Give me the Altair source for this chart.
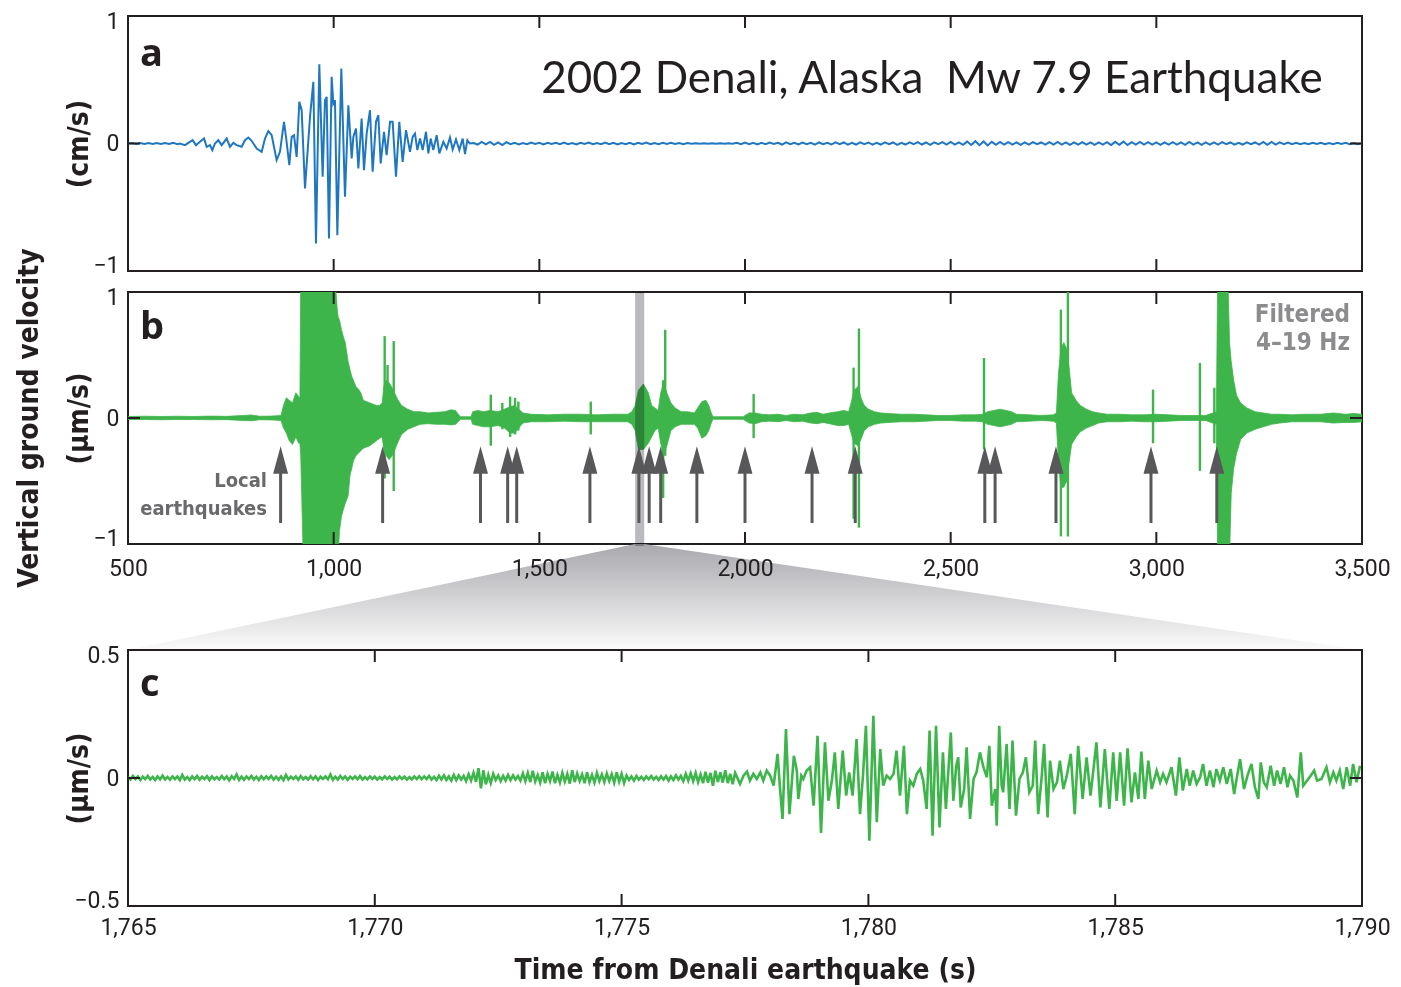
import altair as alt
import pandas as pd

# ------------------------------------------------------------------ data
# panel a: broadband vertical velocity (cm/s), peaks
A_BURST_T = [500, 510, 520, 530, 540, 550, 560, 570, 580, 590, 600, 610, 620, 626,
             638.6, 646.7, 657.2, 665.3, 675, 684.8, 691.2, 699.3, 705, 711.5,
             719.6, 727.7, 739.9, 748, 756, 764.2, 776.3, 784.4, 792.5, 800.6,
             812.8, 825, 833, 841.2, 849.3, 861.4, 869.5, 879.2, 884.1, 892.2,
             897.9, 903.6, 910, 916.5, 922.2, 930.3, 942.5, 950.6, 957, 965.1,
             973.2, 978.9, 983, 988.6, 995.1, 999.2, 1003.2, 1008.9, 1018.6, 1027.5,
             1035.7, 1043.8, 1047.8, 1054.3, 1060, 1068, 1073.7, 1080.2, 1088.3, 1094.8,
             1102.9, 1108.6, 1114.3, 1122.4, 1128.8, 1137, 1143.4, 1151.5, 1159.6, 1167.7,
             1175.9, 1185.6, 1192, 1197.7, 1203.4, 1209.9, 1216.4, 1224.5, 1230.2, 1235.8,
             1242.3, 1250.4, 1256.9, 1266.6, 1274.7, 1282.8, 1289.3, 1297.4, 1305.5, 1313.6,
             1319.3, 1325, 1331]
A_BURST_V = [0, 0.004, -0.003, 0.003, -0.004, 0.004, -0.003, 0.004, -0.004, 0.003, -0.004, 0.005, -0.005, 0,
             -0.013, 0.005, 0.026, -0.013, 0.013, 0.039, -0.026, -0.013, -0.052, 0.0,
             0.026, -0.013, 0.039, -0.026, 0.005, -0.013, -0.026, 0.026, 0.047, 0.021,
             -0.039, -0.065, 0.039, 0.097, 0.065, -0.13, -0.065, 0.17, 0.052, -0.17,
             0.052, 0.065, -0.105, 0.327, 0.261, -0.353, 0.209, 0.484, -0.784, 0.622,
             -0.261, 0.34, 0.366, -0.745, 0.523, 0.314, 0.34, -0.719, 0.588, -0.418,
             0.3, -0.118, 0.052, 0.118, -0.196, 0.196, -0.209, 0.078, 0.261, -0.222,
             0.17, 0.222, -0.157, 0.092, -0.092, 0.17, 0.17, -0.261, 0.17, -0.144,
             0.105, -0.065, 0.052, 0.078, -0.052, 0.039, -0.052, 0.092, -0.078, 0.039,
             -0.052, 0.065, -0.078, 0.013, -0.039, 0.047, -0.047, 0.031, -0.052, 0.039,
             -0.084, 0.026, 0.0]
A_NOISE_T0 = 1340
A_NOISE_DT = 10
A_NOISE_V = [
    0.004, -0.008, 0.012, -0.006, 0.013, -0.01, 0.008, -0.013, 0.01, -0.005,
    0.006, -0.008, 0.004, -0.006, 0.008, -0.004, 0.005, -0.008, 0.006, -0.003,
    0.005, -0.006, 0.008, -0.005, 0.004, -0.008, 0.006, -0.004, 0.008, -0.006,
    0.004, -0.005, 0.008, -0.006, 0.005, -0.008, 0.004, -0.005, 0.006, -0.008,
    0.005, -0.004, 0.008, -0.006, 0.004, -0.005, 0.006, -0.004, 0.005, -0.003,
    0.004, -0.005, 0.003, -0.002, 0.001, -0.001, 0.001, -0.001, 0.001, -0.001,
    0.001, -0.001, 0.001, -0.001, 0.005, -0.006, 0.008, -0.005, 0.006, -0.008,
    0.005, -0.006, 0.008, -0.004, 0.006, -0.008, 0.009, -0.006, 0.005, -0.008,
    0.008, -0.005, 0.006, -0.009, 0.008, -0.006, 0.005, -0.008, 0.009, -0.006,
    0.008, -0.009, 0.006, -0.008, 0.009, -0.005, 0.008, -0.009, 0.006, -0.008,
    0.009, -0.006, 0.008, -0.01, 0.006, -0.008, 0.009, -0.006, 0.01, -0.008,
    0.008, -0.01, 0.009, -0.006, 0.01, -0.008, 0.012, -0.009, 0.008, -0.01,
    0.015, -0.012, 0.018, -0.013, 0.016, -0.015, 0.013, -0.01, 0.012, -0.009,
    0.01, -0.008, 0.009, -0.01, 0.008, -0.009, 0.01, -0.006, 0.008, -0.009,
    0.01, -0.008, 0.012, -0.009, 0.008, -0.01, 0.009, -0.008, 0.01, -0.009,
    0.008, -0.01, 0.009, -0.008, 0.01, -0.012, 0.013, -0.01, 0.015, -0.012,
    0.01, -0.009, 0.012, -0.008, 0.01, -0.009, 0.008, -0.01, 0.009, -0.008,
    0.01, -0.009, 0.008, -0.01, 0.012, -0.008, 0.009, -0.01, 0.008, -0.009,
    0.009, -0.008, 0.01, -0.006, 0.008, -0.009, 0.006, -0.008, 0.009, -0.006,
    0.008, -0.009, 0.012, -0.01, 0.013, -0.008, 0.009, -0.006, 0.008, -0.005,
    0.006, -0.005, 0.004, -0.006, 0.005, -0.004, 0.006, -0.005, 0.004, -0.005,
    0.006, -0.004, 0.005, -0.006, 0.004, -0.005, 0.003]

# panel b: filtered 4-19 Hz trace (um/s) as upper / lower envelope
B_T = [500, 540, 580, 620, 660, 700, 740, 780, 800, 820,
       850, 872, 878, 885, 892, 900, 908, 915, 918, 920,
       926, 1004, 1006, 1009, 1011, 1014, 1019, 1024, 1028, 1035,
       1040, 1044, 1048, 1054, 1060, 1066, 1072, 1080, 1088, 1096,
       1104, 1112, 1118, 1122, 1128, 1135, 1142, 1148, 1155, 1165,
       1180, 1195, 1210, 1230, 1250, 1270, 1285, 1296, 1303, 1308,
       1334, 1338, 1350, 1365, 1380, 1400, 1415, 1430, 1440, 1450,
       1460, 1480, 1520, 1560, 1600, 1640, 1680, 1715, 1725, 1733,
       1741, 1753, 1765, 1773, 1781, 1789, 1795, 1802, 1810, 1820,
       1830, 1845, 1860, 1877, 1885, 1895, 1905, 1912, 1918, 1922,
       1996, 2000, 2010, 2025, 2040, 2060, 2080, 2100, 2120, 2140,
       2160, 2175, 2190, 2205, 2225, 2240, 2252, 2258, 2265, 2275,
       2283, 2290, 2300, 2315, 2330, 2350, 2380, 2410, 2440, 2470,
       2500, 2530, 2560, 2578, 2590, 2605, 2620, 2635, 2648, 2660,
       2690, 2720, 2750, 2757, 2762, 2768, 2775, 2782, 2788, 2794,
       2805, 2815, 2830, 2845, 2860, 2880, 2910, 2940, 2970, 3000,
       3030, 3060, 3090, 3120, 3146, 3149, 3174, 3178, 3182, 3188,
       3195, 3205, 3220, 3240, 3260, 3280, 3300, 3330, 3360, 3400,
       3430, 3460, 3480, 3500]
B_HI = [0.012, 0.014, 0.012, 0.014, 0.012, 0.015, 0.013, 0.02, 0.024, 0.014,
        0.015, 0.02, 0.1, 0.16, 0.14, 0.12, 0.2, 0.17, 0.16, 1.1,
        1.1, 1.1, 0.98, 0.85, 0.8, 0.78, 0.7, 0.64, 0.6, 0.45,
        0.38, 0.33, 0.3, 0.25, 0.23, 0.2, 0.14, 0.13, 0.12, 0.11,
        0.1, 0.1, 0.12, 0.25, 0.3, 0.28, 0.24, 0.2, 0.15, 0.1,
        0.07, 0.05, 0.05, 0.04, 0.045, 0.05, 0.065, 0.06, 0.03, 0.01,
        0.01, 0.05, 0.06, 0.05, 0.06, 0.05, 0.07, 0.09, 0.1, 0.07,
        0.04, 0.03, 0.025, 0.03, 0.03, 0.025, 0.03, 0.03, 0.05, 0.1,
        0.22, 0.27, 0.2, 0.1, 0.08, 0.06, 0.2, 0.28, 0.2, 0.12,
        0.08, 0.05, 0.05, 0.04, 0.08, 0.13, 0.14, 0.1, 0.04, 0.01,
        0.01, 0.02, 0.04, 0.04, 0.03, 0.025, 0.03, 0.02, 0.03, 0.025,
        0.04, 0.045, 0.03, 0.04, 0.05, 0.06, 0.05, 0.12, 0.22, 0.25,
        0.15, 0.1, 0.07, 0.05, 0.04, 0.035, 0.03, 0.03, 0.025, 0.02,
        0.02, 0.025, 0.025, 0.03, 0.05, 0.06, 0.07, 0.06, 0.05, 0.03,
        0.025, 0.02, 0.025, 0.04, 0.35, 0.55, 0.6, 0.55, 0.4, 0.2,
        0.14, 0.1, 0.07, 0.05, 0.04, 0.03, 0.03, 0.025, 0.025, 0.03,
        0.025, 0.02, 0.02, 0.02, 0.05, 1.1, 1.1, 0.6, 0.45, 0.3,
        0.18, 0.12, 0.08, 0.05, 0.04, 0.03, 0.03, 0.025, 0.03, 0.03,
        0.04, 0.03, 0.035, 0.03]
B_LO = [-0.012, -0.012, -0.014, -0.012, -0.012, -0.014, -0.013, -0.02, -0.022, -0.014,
        -0.015, -0.02, -0.08, -0.12, -0.18, -0.21, -0.15, -0.2, -0.2, -0.3,
        -1.1, -1.1, -1.1, -1.1, -1.1, -0.9, -0.78, -0.72, -0.68, -0.62,
        -0.45, -0.4, -0.34, -0.3, -0.28, -0.26, -0.24, -0.23, -0.22, -0.2,
        -0.18, -0.16, -0.15, -0.25, -0.3, -0.33, -0.3, -0.26, -0.2, -0.13,
        -0.09, -0.07, -0.05, -0.045, -0.05, -0.05, -0.055, -0.05, -0.03, -0.01,
        -0.01, -0.05, -0.06, -0.07, -0.07, -0.06, -0.08, -0.12, -0.12, -0.08,
        -0.04, -0.03, -0.03, -0.025, -0.03, -0.03, -0.03, -0.03, -0.05, -0.1,
        -0.25, -0.25, -0.2, -0.15, -0.1, -0.08, -0.2, -0.3, -0.22, -0.1,
        -0.07, -0.05, -0.05, -0.05, -0.08, -0.16, -0.14, -0.1, -0.04, -0.01,
        -0.01, -0.02, -0.04, -0.045, -0.03, -0.025, -0.03, -0.02, -0.03, -0.025,
        -0.04, -0.045, -0.035, -0.045, -0.06, -0.06, -0.05, -0.12, -0.2, -0.22,
        -0.16, -0.1, -0.07, -0.05, -0.04, -0.035, -0.03, -0.03, -0.025, -0.02,
        -0.02, -0.025, -0.025, -0.03, -0.05, -0.06, -0.07, -0.06, -0.05, -0.03,
        -0.025, -0.02, -0.025, -0.04, -0.35, -0.55, -0.55, -0.5, -0.35, -0.21,
        -0.15, -0.11, -0.08, -0.06, -0.04, -0.03, -0.03, -0.025, -0.03, -0.03,
        -0.025, -0.02, -0.02, -0.02, -0.05, -1.1, -1.1, -1.1, -0.6, -0.4,
        -0.28, -0.17, -0.12, -0.09, -0.07, -0.05, -0.04, -0.03, -0.03, -0.03,
        -0.04, -0.035, -0.035, -0.03]
B_SPIKE_T = [1124, 1131, 1146, 1382, 1410, 1429, 1441, 1449, 1625, 1801,
             1806, 2021, 2264, 2277, 2581, 2768, 2785, 2992, 3106, 3141]
B_SPIKE_HI = [0.65, 0.42, 0.61, 0.185, 0.12, 0.17, 0.16, 0.13, 0.13, 0.3,
              0.70, 0.19, 0.40, 0.71, 0.476, 0.86, 1.1, 0.225, 0.437, 0.24]
B_SPIKE_LO = [-0.48, -0.2, -0.58, -0.22, -0.09, -0.15, -0.13, -0.1, -0.13, -0.635,
              -0.3, -0.16, -0.8, -0.87, -0.25, -0.94, -0.94, -0.2, -0.42, -0.2]
ARROW_T = [871, 1119, 1357, 1423, 1445, 1623, 1742, 1767, 1795, 1883,
           2000, 2163, 2268, 2583, 2608, 2756, 2987, 3147]
BAND_T = [1733, 1755]

# panel c: zoom 1765-1790 s (um/s)
C_NOISE_T0 = 1765.0
C_NOISE_DT = 0.05
C_NOISE_V = [
    0.004, -0.006, 0.008, -0.004, 0.006, -0.008, 0.005, -0.004, 0.008, -0.006, 0.004, -0.008, 0.006, -0.005, 0.009, -0.006, 0.004, -0.007, 0.006, -0.004,
    0.006, -0.008, 0.012, -0.006, 0.004, -0.008, 0.006, -0.005, 0.008, -0.007, 0.005, -0.004, 0.007, -0.008, 0.006, -0.005, 0.004, -0.006, 0.008, -0.005,
    0.006, -0.009, 0.007, -0.004, 0.014, -0.008, 0.005, -0.007, 0.006, -0.004, 0.008, -0.006, 0.005, -0.008, 0.007, -0.005, 0.006, -0.004, 0.008, -0.006,
    0.005, -0.007, 0.006, -0.008, 0.012, -0.006, 0.005, -0.004, 0.006, -0.007, 0.008, -0.005, 0.004, -0.006, 0.007, -0.005, 0.006, -0.008, 0.005, -0.004,
    0.006, -0.005, 0.014, -0.007, 0.005, -0.006, 0.008, -0.004, 0.006, -0.007, 0.005, -0.004, 0.006, -0.005, 0.008, -0.006, 0.004, -0.005, 0.006, -0.004,
    0.005, -0.006, 0.004, -0.005, 0.006, -0.004, 0.005, -0.006, 0.004, -0.005, 0.006, -0.004, 0.005, -0.006, 0.004, -0.005, 0.006, -0.004, 0.007, -0.005,
    0.006, -0.004, 0.008, -0.006, 0.005, -0.008, 0.009, -0.006, 0.01, -0.008, 0.006, -0.01, 0.012, -0.008, 0.01, -0.006, 0.008, -0.012, 0.015, -0.01,
    0.02, -0.015, 0.038, -0.04, 0.03, -0.025, 0.012, -0.02, 0.016, -0.008, 0.01, -0.012, 0.008, -0.01, 0.012, -0.008, 0.01, -0.006, 0.008, -0.01,
    0.018, -0.012, 0.02, -0.016, 0.028, -0.014, 0.012, -0.018, 0.022, -0.02, 0.016, -0.012, 0.025, -0.02, 0.012, -0.018, 0.02, -0.014, 0.016, -0.022,
    0.03, -0.016, 0.018, -0.012, 0.014, -0.02, 0.022, -0.016, 0.012, -0.018, 0.02, -0.012, 0.014, -0.016, 0.018, -0.012, 0.015, -0.018, 0.022, -0.014,
    0.016, -0.02, 0.01, -0.008, 0.006, -0.01, 0.008, -0.006, 0.005, -0.008, 0.006, -0.005, 0.008, -0.006, 0.005, -0.008, 0.007, -0.006, 0.008, -0.01,
    0.006, -0.008, 0.01, -0.006, 0.008, -0.012, 0.016, -0.01, 0.018, -0.012, 0.02, -0.016, 0.014, -0.02, 0.024, -0.018, 0.02, -0.03, 0.028, -0.016,
    0.022, -0.018, 0.03, -0.02, 0.016, -0.024, 0.02]
C_BURST_T = [
    1777.40, 1777.47, 1777.54, 1777.60, 1777.67, 1777.74, 1777.81, 1777.87, 1777.94, 1778.01,
    1778.08, 1778.16, 1778.20, 1778.26, 1778.33, 1778.40, 1778.49, 1778.55, 1778.58, 1778.64,
    1778.68, 1778.75, 1778.82, 1778.89, 1778.97, 1779.04, 1779.12, 1779.19, 1779.26, 1779.32,
    1779.39, 1779.48, 1779.55, 1779.61, 1779.68, 1779.76, 1779.83, 1779.89, 1779.95, 1780.02,
    1780.10, 1780.17, 1780.24, 1780.30, 1780.37, 1780.44, 1780.51, 1780.57, 1780.64, 1780.72,
    1780.78, 1780.84, 1780.91, 1780.98, 1781.05, 1781.11, 1781.18, 1781.24, 1781.30, 1781.37,
    1781.44, 1781.51, 1781.57, 1781.67, 1781.72, 1781.78, 1781.82, 1781.87, 1781.94, 1781.99,
    1782.06, 1782.13, 1782.19, 1782.26, 1782.33, 1782.40, 1782.45, 1782.50, 1782.57, 1782.60,
    1782.65, 1782.70, 1782.73, 1782.80, 1782.86, 1782.92, 1782.99, 1783.06, 1783.13, 1783.19,
    1783.26, 1783.33, 1783.38, 1783.44, 1783.51, 1783.56, 1783.63, 1783.68, 1783.75, 1783.82,
    1783.88, 1783.95, 1784.02, 1784.10, 1784.18, 1784.25, 1784.34, 1784.42, 1784.50, 1784.62,
    1784.70, 1784.79, 1784.88, 1784.96, 1785.03, 1785.10, 1785.18, 1785.25, 1785.33, 1785.40,
    1785.47, 1785.53, 1785.60, 1785.67, 1785.74, 1785.84, 1785.91, 1785.97, 1786.04, 1786.14,
    1786.23, 1786.30, 1786.37, 1786.45, 1786.51, 1786.58, 1786.65, 1786.72, 1786.78, 1786.85,
    1786.92, 1786.99, 1787.05, 1787.12, 1787.19, 1787.26, 1787.34, 1787.41, 1787.46, 1787.53,
    1787.61, 1787.68, 1787.76, 1787.83, 1787.90, 1787.95, 1788.01, 1788.07, 1788.15, 1788.22,
    1788.28, 1788.35, 1788.42, 1788.49, 1788.54, 1788.61, 1788.69, 1788.76, 1788.81, 1788.89,
    1788.96, 1789.03, 1789.09, 1789.18, 1789.28, 1789.35, 1789.42, 1789.48, 1789.55, 1789.62,
    1789.69, 1789.76, 1789.82, 1789.89, 1789.96]
C_BURST_V = [
    -0.023, 0.009, 0.025, -0.01, 0.016, -0.004, 0.022, -0.01, 0.029, 0.009,
    -0.03, 0.094, -0.017, -0.16, 0.191, -0.141, 0.087, 0.029, -0.082, 0.009,
    -0.004, 0.029, 0.042, -0.108, 0.165, -0.215, 0.139, -0.089, -0.01, 0.1,
    -0.121, 0.107, -0.069, 0.022, -0.069, 0.152, -0.141, 0.009, 0.204, -0.245,
    0.243, -0.173, 0.113, -0.03, 0.009, -0.004, 0.016, 0.107, -0.069, 0.126,
    -0.141, -0.01, -0.03, 0.016, 0.035, -0.01, -0.121, 0.185, -0.225, 0.204,
    -0.193, 0.1, -0.121, 0.178, -0.089, 0.048, 0.081, -0.115, -0.043, 0.12,
    -0.16, -0.004, 0.022, 0.1, 0.042, 0.003, 0.126, -0.108, -0.043, -0.186,
    0.204, -0.03, -0.056, 0.133, -0.121, 0.146, -0.147, -0.004, 0.022, 0.081,
    -0.056, -0.03, 0.146, -0.141, 0.003, 0.133, -0.154, 0.068, -0.043, -0.017,
    0.068, -0.043, 0.009, 0.094, -0.141, 0.126, -0.082, 0.081, -0.069, 0.139,
    -0.115, 0.113, -0.121, 0.1, -0.089, 0.1, -0.108, 0.116, -0.095, 0.022,
    -0.082, 0.103, -0.082, 0.068, -0.043, 0.029, -0.017, 0.016, -0.017, 0.042,
    -0.069, 0.081, -0.049, 0.035, -0.03, 0.029, -0.023, 0.003, 0.055, -0.03,
    0.029, -0.036, 0.035, -0.01, 0.042, -0.023, 0.035, -0.063, -0.004, 0.074,
    -0.043, 0.009, 0.055, -0.036, -0.082, 0.061, -0.017, -0.036, 0.048, -0.03,
    0.029, -0.023, 0.042, -0.036, 0.009, -0.01, -0.076, 0.1, -0.03, -0.01,
    0.009, 0.029, -0.01, -0.004, 0.042, -0.017, 0.022, -0.01, 0.029, -0.043,
    0.042, -0.03, 0.055, -0.017, 0.048]

AB_DOMAIN = [500, 3500]
AB_LABELS = [500, 1000, 1500, 2000, 2500, 3000, 3500]
AB_TICKS = [1000, 1500, 2000, 2500, 3000]
C_DOMAIN = [1765, 1790]
C_LABELS = [1765, 1770, 1775, 1780, 1785, 1790]
C_TICKS = [1770, 1775, 1780, 1785]
AB_Y = [-1, 0, 1]
C_Y = [-0.5, 0, 0.5]

# ------------------------------------------------------------------ style / layout
W = 1234
HA, HB, HC = 255, 252, 256
GAP_AB, GAP_BC = 21, 106
TICK = 12
INK = "#231f20"
BLUE = "#1f77c2"
GREEN = "#3db54a"
ARROW = "#58585b"
LABELF = "Roboto, DejaVu Sans Condensed, sans-serif"
NARROW = "DejaVu Sans Condensed, DejaVu Sans, sans-serif"
BOLDF = "Open Sans, DejaVu Sans, sans-serif"
TITLEF = "Lato, Open Sans, sans-serif"
LABEL_SIZE = 23
BOLD_SIZE = 28

a_df = pd.DataFrame({
    "t": A_BURST_T + [A_NOISE_T0 + i * A_NOISE_DT for i in range(len(A_NOISE_V))],
    "v": A_BURST_V + A_NOISE_V,
})
b_df = pd.DataFrame({"t": B_T, "hi": B_HI, "lo": B_LO})
spk_df = pd.DataFrame({"t": B_SPIKE_T, "hi": B_SPIKE_HI, "lo": B_SPIKE_LO})
arr_df = pd.DataFrame({"t": ARROW_T})
band_df = pd.DataFrame({"t": [BAND_T[0]], "t2": [BAND_T[1]]})
c_df = pd.DataFrame({
    "t": [C_NOISE_T0 + i * C_NOISE_DT for i in range(len(C_NOISE_V))] + C_BURST_T,
    "v": C_NOISE_V + C_BURST_V,
})
zero_df = pd.DataFrame({"v": [0]})

# zoom connector: from the band at the bottom of panel b to the top corners of panel c
trap_bottom = -1 - GAP_BC / (HB / 2)
trap_df = pd.DataFrame({
    "t": [AB_DOMAIN[0], BAND_T[0], BAND_T[1], AB_DOMAIN[1]],
    "hi": [trap_bottom, -1, -1, trap_bottom],
    "lo": [trap_bottom] * 4,
})


def y_axis(values, title, h):
    return alt.Axis(values=values, format="~f", title=title, titleX=-49, titleY=h / 2,
                    titleAngle=270, titleAlign="center", titleBaseline="middle",
                    titleFont=NARROW, titleFontSize=BOLD_SIZE, titleFontWeight="bold", titleColor=INK,
                    labelFont=LABELF, labelFontSize=LABEL_SIZE, labelColor=INK, labelPadding=9,
                    labelFlush=True, labelFlushOffset=6,
                    ticks=False, domain=False, grid=False, labelOverlap=False)


def x_axis(values, pad, title=None):
    kw = dict(values=values, format=",d", labelFont=LABELF, labelFontSize=LABEL_SIZE, labelColor=INK,
              labelPadding=pad, ticks=False, domain=False, grid=False, labelFlush=False,
              labelOverlap=False, zindex=1)
    if title:
        kw.update(title=title, titleFont=NARROW, titleFontSize=BOLD_SIZE, titleFontWeight="bold",
                  titleColor=INK, titlePadding=17)
    else:
        kw.update(title=None)
    return alt.Axis(**kw)


def text_layer(txt, x, y, size, font, color=INK, align="left", weight="bold", angle=0,
               baseline="alphabetic", line_height=None):
    kw = dict(align=align, baseline=baseline, fontSize=size, font=font, fontWeight=weight,
              color=color, angle=angle, lineBreak="\n")
    if line_height:
        kw["lineHeight"] = line_height
    return alt.Chart(pd.DataFrame({"s": [txt]})).mark_text(**kw).encode(
        x=alt.value(x), y=alt.value(y), text="s:N")


def tick_layers(ticks, xe, ye, h):
    tdf = pd.DataFrame({"t": ticks})
    top = alt.Chart(tdf).mark_rule(color=INK, strokeWidth=2).encode(
        x=xe, y=alt.value(0), y2=alt.value(TICK))
    bot = alt.Chart(tdf).mark_rule(color=INK, strokeWidth=2).encode(
        x=xe, y=alt.value(h - TICK), y2=alt.value(h))
    zl = alt.Chart(zero_df).mark_rule(color=INK, strokeWidth=2).encode(
        y=ye, x=alt.value(0), x2=alt.value(TICK))
    zr = alt.Chart(zero_df).mark_rule(color=INK, strokeWidth=2).encode(
        y=ye, x=alt.value(W - TICK), x2=alt.value(W))
    return [top, bot, zl, zr]


# ------------------------------------------------------------------ panel a
xa = alt.X("t:Q", scale=alt.Scale(domain=AB_DOMAIN, nice=False, zero=False), axis=None)
ya = alt.Y("v:Q", scale=alt.Scale(domain=[-1, 1], nice=False), axis=y_axis(AB_Y, "(cm/s)", HA))
line_a = alt.Chart(a_df).mark_line(color=BLUE, strokeWidth=2, clip=True).encode(x=xa, y=ya)
panel_a = alt.layer(
    line_a,
    *tick_layers(AB_TICKS, xa, ya, HA),
    text_layer("a", 12, 50, 38, BOLDF),
    text_layer("2002 Denali, Alaska \u00a0Mw 7.9 Earthquake", 804, 77, 44, TITLEF,
               align="center", weight="normal"),
).properties(width=W, height=HA)

# ------------------------------------------------------------------ panel b
xb = alt.X("t:Q", scale=alt.Scale(domain=AB_DOMAIN, nice=False, zero=False),
           axis=x_axis(AB_LABELS, 13))
yb_hi = alt.Y("hi:Q", scale=alt.Scale(domain=[-1, 1], nice=False), axis=y_axis(AB_Y, "(µm/s)", HB))
yb_v = alt.Y("v:Q", scale=alt.Scale(domain=[-1, 1], nice=False), axis=y_axis(AB_Y, "(µm/s)", HB))

gradient = alt.Gradient(
    gradient="linear",
    stops=[alt.GradientStop(color="#a9a9ae", offset=0),
           alt.GradientStop(color="#fbfbfb", offset=1)],
    x1=0, x2=0, y1=0, y2=1)
trap = alt.Chart(trap_df).mark_area(color=gradient, clip=False, opacity=1).encode(
    x=xb, y=yb_hi, y2="lo:Q")
env = alt.Chart(b_df).mark_area(color=GREEN, stroke=GREEN, strokeWidth=0.8, opacity=1, clip=True).encode(
    x=xb, y=yb_hi, y2="lo:Q")
spikes = alt.Chart(spk_df).mark_rule(color=GREEN, strokeWidth=2.4, clip=True).encode(
    x=xb, y=yb_hi, y2="lo:Q")
band = alt.Chart(band_df).mark_rect(color="#b9b9be", blend="multiply", opacity=1).encode(
    x=xb, x2="t2:Q", y=alt.value(0), y2=alt.value(HB + 2))
shafts = alt.Chart(arr_df).mark_rule(color=ARROW, strokeWidth=3).encode(
    x=xb, y=alt.value(178), y2=alt.value(231))
heads = alt.Chart(arr_df).mark_point(shape="M0,-1L0.54,1L-0.54,1Z", size=767, filled=True,
                                     color=ARROW, opacity=1, strokeWidth=0).encode(
    x=xb, y=alt.value(168))

panel_b = alt.layer(
    trap, env, spikes, band, shafts, heads,
    *tick_layers(AB_TICKS, xb, yb_v, HB),
    text_layer("b", 12, 47, 38, BOLDF),
    text_layer("Filtered\n4–19 Hz", 1222, 30, 24, NARROW, color="#8c8c8e", align="right",
               line_height=27.5),
    text_layer("Local\nearthquakes", 139, 195, 20, NARROW, color="#6a6a6c", align="right",
               line_height=28),
    text_layer("Vertical ground velocity", -98, HB / 2, BOLD_SIZE, NARROW, angle=270,
               align="center", baseline="middle"),
).properties(width=W, height=HB)

# spacer keeps the zoom connector room between panels b and c
spacer = alt.Chart(zero_df).mark_point(opacity=0).encode(
    x=alt.value(0), y=alt.value(0)
).properties(width=W, height=GAP_BC - 2 * GAP_AB, view=alt.ViewBackground(strokeOpacity=0))

# ------------------------------------------------------------------ panel c
xc = alt.X("t:Q", scale=alt.Scale(domain=C_DOMAIN, nice=False, zero=False),
           axis=x_axis(C_LABELS, 10, "Time from Denali earthquake (s)"))
yc = alt.Y("v:Q", scale=alt.Scale(domain=[-0.5, 0.5], nice=False), axis=y_axis(C_Y, "(µm/s)", HC))
line_c = alt.Chart(c_df).mark_line(color=GREEN, strokeWidth=2.6, clip=True).encode(x=xc, y=yc)
panel_c = alt.layer(
    line_c,
    *tick_layers(C_TICKS, xc, yc, HC),
    text_layer("c", 12, 46, 38, BOLDF),
).properties(width=W, height=HC)

chart = alt.vconcat(panel_a, panel_b, spacer, panel_c, spacing=GAP_AB, bounds="flush").properties(
    padding={"left": 14, "top": 9, "right": 5, "bottom": 5}, background="white"
).configure_view(stroke=INK, strokeWidth=2)

chart.save("out.html", embed_options={"renderer": "svg", "actions": False})
